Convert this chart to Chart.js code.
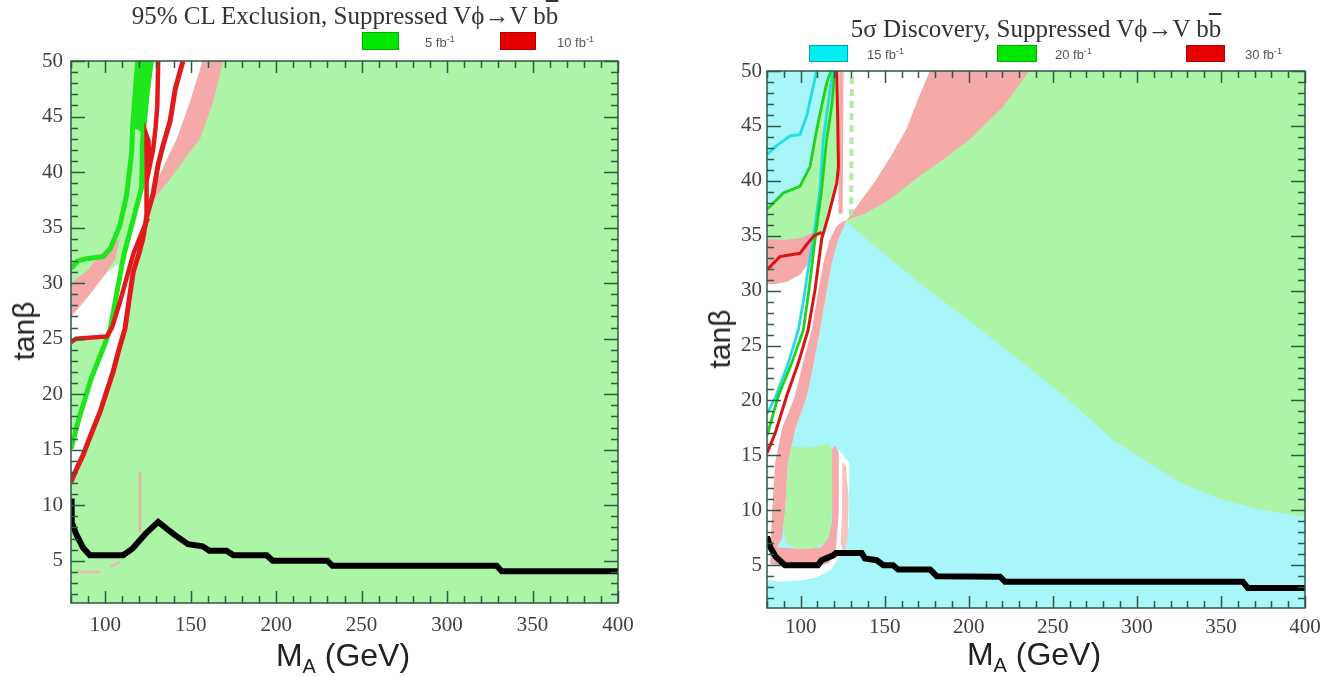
<!DOCTYPE html>
<html>
<head>
<meta charset="utf-8">
<script src="https://cdn.jsdelivr.net/npm/chart.js@4.4.1/dist/chart.umd.min.js"></script>
<style>
  body { margin: 0; background: #fff; }
  #wrap { position: relative; width: 1343px; height: 677px; overflow: hidden; }
  canvas { position: absolute; top: 0; }
  .title { position: absolute; font-family: "Liberation Serif", "Times New Roman", serif; font-size: 25px; line-height: 25px; color: #333; white-space: nowrap; transform: translateX(-50%); }
  .ov { text-decoration: overline; }
  .box { position: absolute; box-sizing: border-box; border: 1.5px solid; }
  .leg { position: absolute; font-family: "Liberation Sans", Arial, sans-serif; font-size: 13px; line-height: 15px; color: #555; white-space: nowrap; }
  .leg sup { font-size: 9px; }
  .ylab { position: absolute; font-family: "Liberation Sans", Arial, sans-serif; font-size: 30px; color: #222; white-space: nowrap; transform: translate(-50%, -50%) rotate(-90deg); }
  .xlab { position: absolute; font-family: "Liberation Sans", Arial, sans-serif; font-size: 32px; line-height: 32px; color: #222; white-space: nowrap; transform: translateX(-50%); }
  .xlab sub { font-size: 20px; }
</style>
</head>
<body>
<div id="wrap">
  <canvas id="excl" width="660" height="640" style="left:0px;width:660px;height:640px"></canvas>
  <canvas id="disc" width="643" height="645" style="left:700px;width:643px;height:645px"></canvas>

  <div class="title" style="left:345px;top:3px">95% CL Exclusion, Suppressed V&#981;&rarr;V b<span class="ov">b</span></div>
  <div class="box" style="left:362px;top:32px;width:37px;height:18px;background:#00e600;border-color:#00b000"></div>
  <div class="leg" style="left:425px;top:32px">5 fb<sup>-1</sup></div>
  <div class="box" style="left:500px;top:32px;width:36px;height:18px;background:#e60000;border-color:#b00000"></div>
  <div class="leg" style="left:557px;top:32px">10 fb<sup>-1</sup></div>
  <div class="ylab" style="left:24px;top:331px">tan&beta;</div>
  <div class="xlab" style="left:343px;top:639px">M<sub>A</sub> (GeV)</div>

  <div class="title" style="left:1036px;top:16px">5&sigma; Discovery, Suppressed V&#981;&rarr;V b<span class="ov">b</span></div>
  <div class="box" style="left:809px;top:45px;width:39px;height:17px;background:#00eef2;border-color:#00a8b0"></div>
  <div class="leg" style="left:867px;top:44px">15 fb<sup>-1</sup></div>
  <div class="box" style="left:997px;top:45px;width:40px;height:17px;background:#00e600;border-color:#00b000"></div>
  <div class="leg" style="left:1055px;top:44px">20 fb<sup>-1</sup></div>
  <div class="box" style="left:1186px;top:45px;width:39px;height:17px;background:#e60000;border-color:#b00000"></div>
  <div class="leg" style="left:1245px;top:44px">30 fb<sup>-1</sup></div>
  <div class="ylab" style="left:720px;top:339px">tan&beta;</div>
  <div class="xlab" style="left:1034px;top:638px">M<sub>A</sub> (GeV)</div>
</div>

<script>
// axis ticks
const xTicks = [100, 150, 200, 250, 300, 350, 400];
const yTicks = [5, 10, 15, 20, 25, 30, 35, 40, 45, 50];
const xMinorStep = 10;
const yMinorStep = 1;

// ---- 95% CL exclusion (left) ----  points are [M_A, tanb]
const exclBlack = [[80,10.6],[80.4,8.5],[83.3,7.3],[87,6.2],[91,5.5],[110.5,5.5],[116,6.1],[124,7.5],[131,8.5],[140,7.4],[148.5,6.5],[157,6.3],[161,5.9],[171,5.9],[175,5.5],[194.5,5.5],[198,5.0],[230,5.0],[233,4.55],[329,4.55],[332,4.05],[400,4.05]];
const exclGreenA = [[80,15.1],[85,18],[92,21.5],[99,24.2],[103,25.9],[107.6,29.8],[111,32.6],[116,35.5],[121.3,38.6],[122,43],[124.5,47],[127,50]];
const exclGreenB = [[80,31.3],[84,32],[89,32.2],[99,32.4],[103,33.1],[108.6,35.2],[112.5,37.9],[115.5,41.8],[116,44],[117.5,47],[119,50]];
const exclGreenTop = [[116,44],[117.5,47],[119,50],[127,50],[124.5,47],[122,43.5],[119,43.8]];
const exclRedA = [[80,12.1],[83,13.2],[87,14.5],[92,16.5],[97,18.4],[101,20.3],[104.6,22],[108,24],[111.6,25.9],[114,28.5],[116.4,31],[120,32.8],[122,34],[124.3,36],[128,38],[131,40.7],[134,42.5],[138,44.6],[141,47.5],[145.5,50]];
const exclRedB = [[80,24.7],[83,25],[101,25.2],[104,26],[108.6,28.3],[113.5,31],[116.4,32.6],[120,34],[124.3,35.6],[124,38.5],[124.4,43.3],[125.3,42.8],[126,40.5],[128,42],[129.5,44],[130.5,46],[131,50]];
const exclWhiteMain = [[80,15.1],[85,18],[92,21.5],[99,24.2],[103,25.9],[107.6,29.8],[111,32.6],[116,35.5],[121.3,38.6],[122,43],[124.5,47],[127,50],[157,50],[150,46.5],[142,43],[135,40.8],[130,39.2],[128.6,38],[124.3,36],[122,34],[120,32.8],[116.4,31],[114,28.5],[111.6,25.9],[108,24],[104.6,22],[101,20.3],[97,18.4],[92,16.5],[87,14.5],[83,13.2],[80,12.1]];
const exclWhiteLeft = [[80,24.8],[101,25.2],[103,25.9],[107.6,29.8],[108,31.8],[100,30.8],[90,28.8],[80,27]];
const exclPinkLeft = [[80,27],[90,28.8],[100,30.8],[106,32.2],[108.5,34],[103,33.4],[97,32.6],[90,31.2],[80,30]];
const exclPinkRight = [[128.6,37.6],[133,38.4],[140,39.8],[148,41.5],[155.5,43],[163,46.2],[169,50],[157,50],[150,46.5],[142,43],[135,40.8],[130,39]];
const exclPinkDashA = [[83.5,4.0],[97,4.0]];
const exclPinkDashB = [[103,4.5],[108.6,4.9]];
const exclPinkDashC = [[120.4,7.6],[120.4,13]];

// ---- 5 sigma discovery (right) ----
const discBlack = [[80,7.6],[81.8,6.7],[85,5.8],[90.7,5.0],[110.3,5.0],[112.5,5.45],[119.4,5.9],[121,6.1],[136.3,6.1],[138.3,5.6],[145.2,5.45],[149.2,5.0],[155,5.0],[158,4.6],[177,4.6],[181,4.0],[218.6,3.95],[221.6,3.48],[363,3.48],[366,2.93],[400,2.93]];
const discCyanA = [[80,42.4],[85.8,43.2],[93.7,44.1],[99.6,44.2],[103.6,45.9],[107.5,48.6],[109.5,50]];
const discCyanB = [[80,18.8],[84.8,20.2],[92.7,23.4],[98.6,26.4],[101.6,29],[104.5,32],[107.5,34.7],[111.5,39.2],[113.5,43.8],[117.5,48.3],[119.3,50]];
const discGreenA = [[80,37.4],[89.7,38.9],[99.6,39.5],[105.6,41.3],[109.6,44.7],[112.5,46.8],[115.5,48.9],[118,50]];
const discGreenB = [[80,16.8],[86.7,20.4],[94.7,23.4],[101.6,26.4],[105,30.1],[108.6,34.7],[112.5,39.2],[115.5,43.8],[118.5,46.8],[120.4,50]];
const discRedA = [[80,31.9],[87.7,33.1],[99.6,33.4],[103.6,34.2],[108,35],[112.5,35.3]];
const discRedB = [[80,15.2],[84.8,17],[91.7,20.4],[98.6,23.4],[104.4,26.4],[108.6,30.1],[112.5,34.7],[116.5,36.8],[121.5,39.8],[122.5,41.3],[122,46],[121.5,50]];
const discCyanLow = [[80,1.1],[400,1.1],[400,9.4],[375,10],[350,11],[326,12.5],[300,15],[286,16.4],[256,20.5],[225,24.3],[200,27.3],[175,30.2],[150,33.3],[127,36.3],[116.5,36.8],[112.5,34.7],[108.6,30.1],[104.4,26.4],[98.6,23.4],[91.7,20.4],[84.8,17],[80,15.2]];
const discCyanUp = [[80,37.4],[89.7,38.9],[99.6,39.5],[105.6,41.3],[109.6,44.7],[112.5,46.8],[115.5,48.9],[118,50],[80,50]];
const discPinkUL = [[80,34.7],[90,34.6],[100,34.8],[106,35.2],[110.5,35.3],[106,32.8],[100,31.5],[92,30.8],[85,30.6],[80,30.6]];
const discWhiteUL = [[80,30.6],[85,30.6],[92,30.8],[100,31.5],[106,32.8],[110.5,35.3],[112.5,34.7],[108.6,30.1],[104.4,26.4],[98.6,23.4],[91.7,20.4],[84.8,17],[80,15.2]];
const discWhiteBand = [[80,15.2],[84.8,17],[91.7,20.4],[98.6,23.4],[104.4,26.4],[108.6,30.1],[112.5,34.7],[116.5,36.8],[121.5,39.8],[122.5,41.3],[122,46],[121.5,50],[177,50],[170,47.5],[163,44.7],[154,42.3],[145,40.1],[136,38.2],[127.4,36.4],[122,34.5],[118.5,32.5],[115,29.5],[111.5,26.4],[108,23.5],[103.8,20.4],[97,17.5],[92.5,14.3],[90.7,9.8],[86,6.5],[82,5.1],[80,5.1]];
const discPinkWedge = [[127.4,36.4],[136,38.2],[145,40.1],[154,42.3],[163,44.7],[170,47.5],[177,50],[236,50],[228,48.3],[220,46.7],[210,45.2],[200.8,43.8],[187,42.2],[173,40.7],[163,39.5],[153,38.3],[138,37]];
const discWhiteU = [[80,5.1],[80,3.7],[88,3.5],[100,3.6],[110,3.9],[118,4.6],[124,6],[128.6,8.5],[129,14.3],[122.7,15.5],[122.7,10],[121,6.5],[117,5.2],[110,4.9],[100,4.9],[90,5]];
const discPinkU = [[82,5.1],[82.5,8],[83,9.8],[84.8,14.3],[89,17.5],[96.7,20.4],[101.5,23.5],[106.6,26.4],[110,29.5],[113.5,32.5],[117,34.5],[121,35.8],[125,36.3],[127.4,36.4],[122,34.5],[118.5,32.5],[115,29.5],[111.5,26.4],[108,23.5],[103.8,20.4],[97,17.5],[92.5,14.3],[90.7,9.8],[89,7.5],[86,6.6],[100,6.5],[112,6.6],[116.5,7.5],[118.7,9],[118.7,15.5],[120.5,15.9],[122.7,15.2],[122.7,10],[121,6.5],[117,5.2],[110,4.9],[100,4.9],[90,5]];
const discPinkArm = [[124.7,14.4],[127,14],[128.6,11],[128,7.5],[125.5,6],[123.8,7],[124.7,10]];
const discGreenU = [[90.7,9.8],[92.5,14.3],[94.5,15.8],[105,15.7],[112,15.9],[117,16.1],[118.7,15.5],[118.7,10],[117.5,8],[114,6.9],[106,6.5],[98,6.5],[92,7],[89.5,8.5]];
const discPinkThin = [[122.5,37],[125,37],[125.5,50],[123,50]];
const discGreenDash = [[130,36.8],[130.5,50]];

const GREEN_BG = '#adf5a6', CYAN_BG = '#a8f5fa', PINK_BG = '#f5a9a9', LIGHT_PINK = '#f7c4c0', WHITE = '#ffffff';

function pts(a) { return a.map(p => ({ x: p[0], y: p[1] })); }

function area(a, color) {
  return { data: pts(a), fill: 'shape', backgroundColor: color, borderColor: 'rgba(0,0,0,0)', borderWidth: 0, pointRadius: 0 };
}
function curve(a, color, width, dash) {
  return { data: pts(a), fill: false, borderColor: color, borderWidth: width, borderDash: dash || [], pointRadius: 0 };
}

const framePlugin = {
  id: 'frame',
  beforeDraw(chart, args, o) {
    const { ctx, chartArea: a } = chart;
    ctx.save();
    ctx.fillStyle = o.bg;
    ctx.fillRect(a.left, a.top, a.width, a.height);
    ctx.restore();
  },
  afterDraw(chart, args, o) {
    const { ctx, chartArea: a } = chart;
    const xs = chart.scales.x, ys = chart.scales.y;
    ctx.save();
    ctx.strokeStyle = o.axis;
    ctx.lineWidth = 1.5;
    ctx.beginPath();
    for (let v = xs.min; v <= xs.max; v += xMinorStep) {
      const len = xTicks.includes(v) ? 12 : 7;
      const px = Math.round(xs.getPixelForValue(v)) + 0.5;
      ctx.moveTo(px, a.bottom); ctx.lineTo(px, a.bottom - len);
      ctx.moveTo(px, a.top); ctx.lineTo(px, a.top + len);
    }
    for (let v = Math.ceil(ys.min); v <= ys.max; v += yMinorStep) {
      const len = yTicks.includes(v) ? 14 : 7;
      const py = Math.round(ys.getPixelForValue(v)) + 0.5;
      ctx.moveTo(a.left, py); ctx.lineTo(a.left + len, py);
      ctx.moveTo(a.right, py); ctx.lineTo(a.right - len, py);
    }
    ctx.stroke();
    ctx.strokeRect(a.left, a.top, a.width, a.height);
    ctx.restore();
  }
};

function makeChart(id, layers, cfg) {
  const n = layers.length;
  const datasets = layers.map((d, i) => Object.assign(d, { order: n - i }));
  return new Chart(document.getElementById(id), {
    type: 'line',
    data: { datasets },
    options: {
      responsive: false,
      animation: false,
      devicePixelRatio: 1,
      layout: { padding: { top: cfg.top, right: cfg.right, left: 0, bottom: 0 } },
      elements: { line: { tension: 0 } },
      plugins: {
        legend: { display: false },
        tooltip: { enabled: false },
        frame: { bg: GREEN_BG, axis: '#2e5a46' }
      },
      scales: {
        x: {
          type: 'linear', min: 80, max: 400,
          grid: { display: false, drawTicks: false }, border: { display: false },
          ticks: { font: { family: 'Liberation Serif', size: 21 }, color: '#404040', padding: cfg.xPad, autoSkip: false, maxRotation: 0 },
          afterBuildTicks: s => { s.ticks = xTicks.map(v => ({ value: v })); },
          afterFit: s => { s.height = 37; }
        },
        y: {
          type: 'linear', min: cfg.yMin, max: 50,
          grid: { display: false, drawTicks: false }, border: { display: false },
          ticks: { font: { family: 'Liberation Serif', size: 21 }, color: '#404040', padding: cfg.yPad, autoSkip: false },
          afterBuildTicks: s => { s.ticks = yTicks.map(v => ({ value: v })); },
          afterFit: s => { s.width = cfg.yWidth; }
        }
      }
    },
    plugins: [framePlugin]
  });
}

makeChart('excl', [
  area(exclWhiteMain, WHITE),
  area(exclWhiteLeft, WHITE),
  area(exclPinkLeft, PINK_BG),
  area(exclPinkRight, PINK_BG),
  area(exclGreenTop, '#1de61d'),
  curve(exclPinkDashA, '#f2b4b0', 2.5),
  curve(exclPinkDashB, '#f2b4b0', 2.5),
  curve(exclPinkDashC, '#eeb0a8', 2.5),
  curve(exclGreenB, '#1de61d', 5),
  curve(exclGreenA, '#1de61d', 5),
  curve(exclRedB, '#e01a1a', 4.5),
  curve(exclRedA, '#e01a1a', 5),
  curve(exclBlack, '#000000', 6)
], { top: 61, right: 42, yWidth: 71, yMin: 1.2, xPad: 10, yPad: 8 });

makeChart('disc', [
  area(discCyanLow, CYAN_BG),
  area(discCyanUp, CYAN_BG),
  area(discPinkUL, PINK_BG),
  area(discWhiteUL, WHITE),
  area(discWhiteBand, WHITE),
  area(discPinkWedge, PINK_BG),
  area(discWhiteU, WHITE),
  area(discPinkU, PINK_BG),
  area(discPinkArm, LIGHT_PINK),
  area(discGreenU, GREEN_BG),
  area(discPinkThin, PINK_BG),
  curve(discGreenDash, '#b5eaa5', 4, [7, 5]),
  curve(discCyanA, '#22dde4', 2.8),
  curve(discCyanB, '#22dde4', 2.8),
  curve(discGreenA, '#1ed21e', 2.8),
  curve(discGreenB, '#1ed21e', 2.8),
  curve(discRedA, '#d81414', 3),
  curve(discRedB, '#d81414', 3),
  curve(discBlack, '#000000', 6)
], { top: 71, right: 38, yWidth: 67, yMin: 1.1, xPad: 7, yPad: 5 });
</script>
</body>
</html>
